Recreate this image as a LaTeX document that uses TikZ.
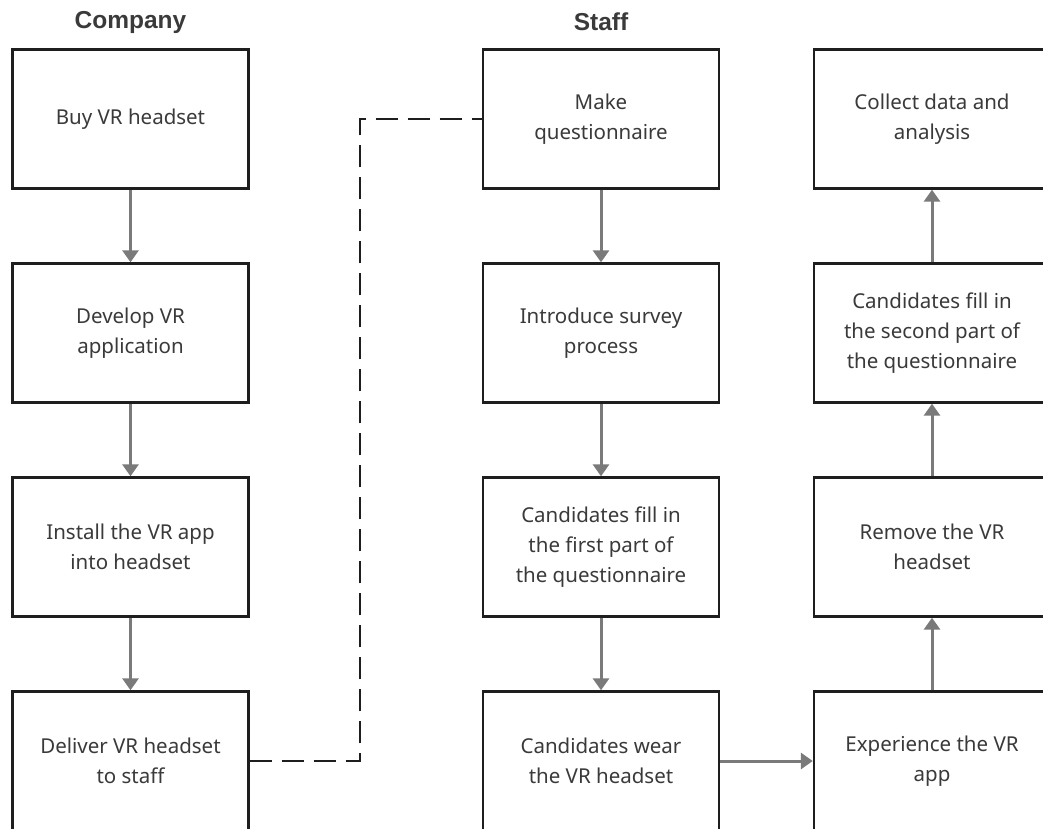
\documentclass[tikz,border=0pt]{standalone}
\usepackage{fontspec}
\setmainfont{Noto Sans}
\newfontfamily\headfont{Liberation Sans}
\usetikzlibrary{arrows.meta}
\definecolor{boxline}{HTML}{1E1E1E}
\definecolor{txt}{HTML}{3A3A3A}
\definecolor{arr}{HTML}{7A7A7A}
\tikzset{
  stepbox/.style={draw=boxline, line width=2.4pt, fill=white, minimum width=236pt, minimum height=139pt,
    inner sep=0pt, align=center, text=txt, font=\fontsize{20.5}{30}\selectfont},
  head/.style={text=txt, font=\headfont\bfseries\fontsize{24.5}{28}\selectfont},
  flow/.style={draw=arr, line width=3pt, -{Triangle[length=12pt,width=16pt]}},
  link/.style={draw=boxline, line width=2.6pt, dash pattern=on 22pt off 10pt}
}
\begin{document}
\begin{tikzpicture}[x=1pt,y=-1pt]
\useasboundingbox (0,0) rectangle (1043,829);
\node[head] (hc) at (130.5,22) {Company};
\node[head] (hs) at (601,22) {Staff};
% column 1
\node[stepbox] (c1) at (130.5,119) {Buy VR headset};
\node[stepbox] (c2) at (130.5,333) {Develop VR\\application};
\node[stepbox] (c3) at (130.5,547) {Install the VR app\\into headset};
\node[stepbox] (c4) at (130.5,761) {Deliver VR headset\\to staff};
% column 2
\node[stepbox] (s1) at (601,119) {Make\\questionnaire};
\node[stepbox] (s2) at (601,333) {Introduce survey\\process};
\node[stepbox] (s3) at (601,547) {Candidates fill in\\the first part of\\the questionnaire};
\node[stepbox] (s4) at (601,761) {Candidates wear\\the VR headset};
% column 3
\node[stepbox] (t1) at (932,119) {Collect data and\\analysis};
\node[stepbox] (t2) at (932,333) {Candidates fill in\\the second part of\\the questionnaire};
\node[stepbox] (t3) at (932,547) {Remove the VR\\headset};
\node[stepbox] (t4) at (932,761) {Experience the VR\\app};
% arrows
\draw[flow] (c1) -- (c2);
\draw[flow] (c2) -- (c3);
\draw[flow] (c3) -- (c4);
\draw[flow] (s1) -- (s2);
\draw[flow] (s2) -- (s3);
\draw[flow] (s3) -- (s4);
\draw[flow] (s4) -- (t4);
\draw[flow] (t4) -- (t3);
\draw[flow] (t3) -- (t2);
\draw[flow] (t2) -- (t1);
% dashed link
\coordinate (bend) at (360,761);
\draw[link] (c4.east) -- (bend) |- (s1.west);
\end{tikzpicture}
\end{document}
